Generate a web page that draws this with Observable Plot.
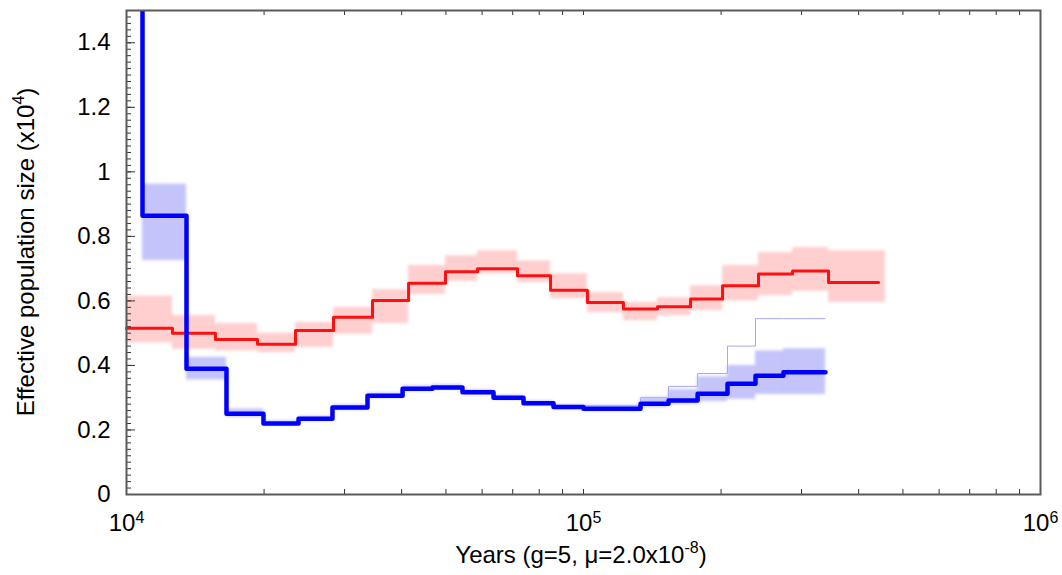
<!DOCTYPE html>
<html><head><meta charset="utf-8">
<script src="https://cdn.jsdelivr.net/npm/d3@7"></script>
<script src="https://cdn.jsdelivr.net/npm/@observablehq/plot@0.6"></script>
<style>
html,body{margin:0;padding:0;background:#fff;}
#chart svg{display:block;}
</style></head><body><div id="chart"></div>
<script>
// ---- data (years, Ne in units of 10^4) ----
const blueTimes = [10000, 10840, 13530, 16550, 19940, 23790, 28230, 33680, 40190, 46730, 54350, 63550, 73910, 85980, 100000, 133300, 153500, 177700, 206600, 237900, 273900, 338500];
const blueNe    = [2.0, 0.864, 0.39, 0.25, 0.22, 0.235, 0.27, 0.306, 0.328, 0.332, 0.317, 0.30, 0.283, 0.271, 0.266, 0.281, 0.291, 0.312, 0.343, 0.368, 0.379];
const blueLo    = [null, 0.725, 0.355, 0.24, 0.214, 0.228, 0.262, 0.298, 0.32, 0.325, 0.31, 0.293, 0.276, 0.264, 0.258, 0.27, 0.28, 0.288, 0.295, 0.31, 0.31];
const blueHi    = [null, 0.962, 0.425, 0.265, 0.228, 0.242, 0.278, 0.314, 0.336, 0.34, 0.324, 0.307, 0.29, 0.278, 0.276, 0.30, 0.325, 0.365, 0.40, 0.445, 0.452];
const blueBootTimes = [100000, 133300, 153500, 177700, 206600, 237900, 273900, 338500];
const blueBootNe    = [0.275, 0.30, 0.335, 0.375, 0.46, 0.545, 0.545];

const redTimes = [10000, 12606, 15654, 19350, 23430, 28380, 34540, 41420, 49890, 58630, 71710, 84700, 102000, 122300, 145200, 171500, 201500, 241500, 286700, 343700, 442200];
const redNe    = [0.515, 0.50, 0.48, 0.466, 0.508, 0.549, 0.601, 0.655, 0.69, 0.70, 0.678, 0.633, 0.595, 0.575, 0.582, 0.606, 0.647, 0.683, 0.693, 0.657];
const redLo    = [0.47, 0.45, 0.445, 0.44, 0.456, 0.497, 0.53, 0.62, 0.66, 0.684, 0.657, 0.607, 0.564, 0.539, 0.554, 0.57, 0.60, 0.616, 0.63, 0.595];
const redHi    = [0.615, 0.555, 0.53, 0.50, 0.533, 0.58, 0.635, 0.71, 0.74, 0.755, 0.724, 0.684, 0.626, 0.595, 0.61, 0.647, 0.71, 0.75, 0.766, 0.755];
const redBootEnd = 458000;

const xMajor = [1e4, 1e5, 1e6];
const xMinor = [2e4, 3e4, 4e4, 5e4, 6e4, 7e4, 8e4, 9e4, 2e5, 3e5, 4e5, 5e5, 6e5, 7e5, 8e5, 9e5];
const yMajor = [0, 0.2, 0.4, 0.6, 0.8, 1, 1.2, 1.4];
const yLabels = ["0", "0.2", "0.4", "0.6", "0.8", "1", "1.2", "1.4"];

// ---- layout ----
const W = 1062, H = 575;
const mL = 126, mR = 22, mT = 10, mB = 81;
const frameW = W - mL - mR, frameH = H - mT - mB;
const FONT = "'Liberation Sans', Arial, Helvetica, sans-serif";
const FS = 24, SUP = 16;

const stepPts = (times, vals) => times.map((t, i) => ({t, v: vals[Math.min(i, vals.length - 1)]}));
const bands = (times, lo, hi, end) => lo.map((l, i) => ({
  x1: times[i], x2: (end && i === lo.length - 1) ? end : times[i + 1], lo: l, hi: hi[i]
})).filter(d => d.lo != null);

const yMinor = d3.range(0, 1.5001, 0.02);

const svg = Plot.plot({
  width: W, height: H,
  marginLeft: mL, marginRight: mR, marginTop: mT, marginBottom: mB,
  x: {type: "log", domain: [1e4, 1e6]},
  y: {domain: [0, 1.5]},
  style: {fontFamily: FONT, fontSize: FS + "px", color: "#000", background: "#fff"},
  marks: [
    Plot.rect(bands(redTimes, redLo, redHi, redBootEnd), {x1: "x1", x2: "x2", y1: "lo", y2: "hi", fill: "#ff8c8c", fillOpacity: 0.42, className: "band"}),
    Plot.rect(bands(blueTimes, blueLo, blueHi), {x1: "x1", x2: "x2", y1: "lo", y2: "hi", fill: "#b0b0fa", fillOpacity: 0.75, className: "band"}),
    Plot.line(stepPts(blueBootTimes, blueBootNe), {x: "t", y: "v", curve: "step-after", stroke: "#a8a8f5", strokeWidth: 1}),
    Plot.line(stepPts(redTimes, redNe), {x: "t", y: "v", curve: "step-after", stroke: "#ff1010", strokeWidth: 3}),
    Plot.line(stepPts(blueTimes, blueNe), {x: "t", y: "v", curve: "step-after", stroke: "#0000ff", strokeWidth: 4.5, clip: true}),
    // inward ticks
    Plot.tickY(yMinor, {y: d => d, insetRight: frameW - 5, stroke: "#333"}),
    Plot.tickY(yMajor, {y: d => d, insetRight: frameW - 9, stroke: "#333"}),
    Plot.tickX(xMinor, {x: d => d, insetTop: frameH - 5, stroke: "#333"}),
    Plot.tickX(xMinor, {x: d => d, insetBottom: frameH - 5, stroke: "#333"}),
    Plot.tickX([1e5], {x: d => d, insetTop: frameH - 5, stroke: "#333"}),
    Plot.tickX([1e5], {x: d => d, insetBottom: frameH - 5, stroke: "#333"}),
    Plot.frame({stroke: "#5a5a5a", strokeWidth: 2}),
    Plot.axisY({ticks: yMajor, tickSize: 0, tickPadding: 16, tickFormat: (d) => yLabels[yMajor.indexOf(d)], label: null, fontSize: FS}),
    Plot.axisX({ticks: xMajor, tickSize: 0, tickPadding: 19, tickFormat: d => String(Math.round(Math.log10(d))), label: null, fontSize: FS})
  ]
});

const s = d3.select(svg);

// soften bootstrap bands
const defs = s.append("defs");
defs.append("filter").attr("id", "soft").attr("x", "-5%").attr("y", "-20%").attr("width", "110%").attr("height", "140%")
  .append("feGaussianBlur").attr("stdDeviation", 1.6);
s.selectAll("g.band").attr("filter", "url(#soft)");

// superscript x tick labels: 10^k
s.selectAll('g[aria-label="x-axis tick label"] text').each(function() {
  const el = d3.select(this);
  const k = el.text();
  el.text(null);
  el.append("tspan").text("10");
  el.append("tspan").attr("dy", "-0.45em").attr("font-size", SUP).text(k);
});

const yt = s.append("text")
  .attr("transform", `translate(34, 252) rotate(-90)`)
  .attr("text-anchor", "middle").attr("font-family", FONT).attr("font-size", FS).attr("fill", "#000");
yt.append("tspan").text("Effective population size (x10");
yt.append("tspan").attr("dy", -10).attr("font-size", SUP).text("4");
yt.append("tspan").attr("dy", 10).text(")");

const xt = s.append("text")
  .attr("x", 581).attr("y", 563)
  .attr("text-anchor", "middle").attr("font-family", FONT).attr("font-size", FS).attr("fill", "#000");
xt.append("tspan").text("Years (g=5, \u03bc=2.0x10");
xt.append("tspan").attr("dy", -10).attr("font-size", SUP).text("-8");
xt.append("tspan").attr("dy", 10).text(")");

document.getElementById("chart").appendChild(svg);
</script></body></html>
